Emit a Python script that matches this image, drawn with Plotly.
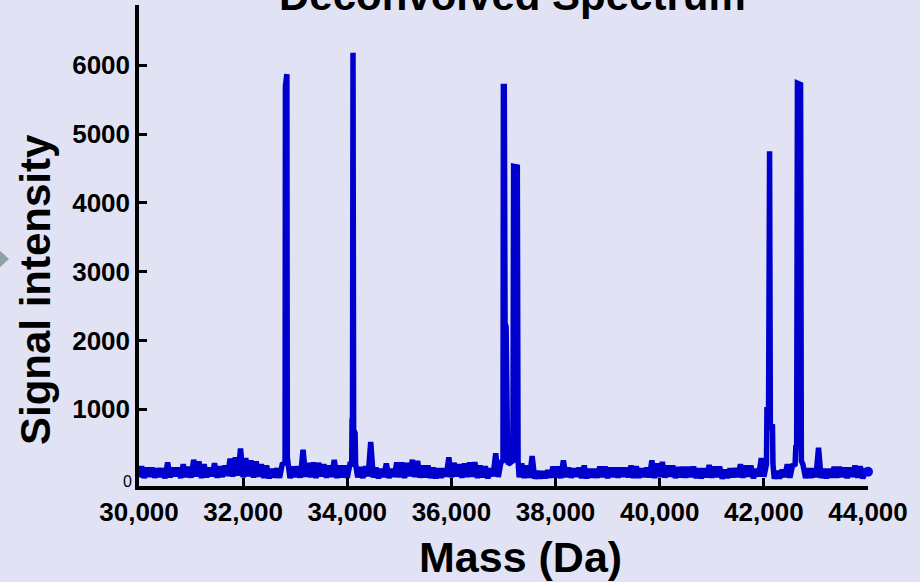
import numpy as np
import plotly.graph_objects as go

# Baseline of the deconvolved spectrum, sampled every 50 Da from 30,000 Da
mass_start = 30000
mass_step = 50
baseline_intensity = [
    10, 170, 0, 150, 20, 150, 5, 140, 15, 140, -5, 225, 10, 150, 25, 150, 0, 200, 15, 160,
    5, 265, 20, 240, 0, 200, 10, 150, 25, 215, 5, 170, 15, 180, 30, 280, 20, 300, 35, 430,
    10, 290, 25, 255, 5, 240, 20, 200, 0, 180, -5, 130, 10, 140, 5, 200, 15, 220, 0, 165,
    15, 170, 5, 410, 20, 220, 10, 225, 0, 220, 25, 200, 5, 180, 15, 265, 0, 180, 10, 180,
    5, 200, 20, 200, 10, 160, 0, 170, 25, 525, 5, 150, -5, 130, 15, 210, 0, 130, 20, 225,
    10, 225, 0, 220, 25, 265, 15, 250, 5, 180, 10, 180, 0, 150, -5, 140, 5, 140, 20, 300,
    10, 220, 25, 200, 5, 210, 15, 225, 20, 230, 0, 180, 10, 170, -5, 140, 25, 360, 15, 230,
    10, 220, 5, 200, 20, 200, 10, 210, 0, 180, 5, 320, -10, 100, -5, 95, 0, 110, 5, 165,
    10, 165, 0, 255, 15, 150, 5, 140, 20, 150, 0, 180, -5, 130, 10, 130, 5, 165, 15, 165,
    0, 150, 15, 150, 5, 150, 20, 150, 10, 180, 0, 170, 5, 140, 15, 150, 10, 255, 0, 210,
    15, 235, 5, 180, 20, 180, 0, 160, 10, 160, 5, 160, 15, 165, 0, 140, -5, 140, 10, 190,
    5, 165, 15, 165, -10, 120, 0, 140, 10, 140, 15, 200, 5, 180, 20, 180, -5, 130, 25, 290,
    20, 240, 10, 200, -10, 100, -5, 120, 15, 200, 5, 180, 20, 200, 10, 200, 0, 140, 5, 140,
    10, 440, 0, 130, -5, 130, 10, 160, 5, 160, 15, 150, 0, 150, 20, 180, 5, 170, -5, 100,
    90,
]

# Deconvolved protein peaks (mass in Da, signal intensity)
peak_mass = [32805, 32812, 32840, 32848,
             34085, 34092, 34100, 34110, 34122, 34150, 34160,
             36990, 36998, 37015, 37030, 37050, 37075, 37090,
             37180, 37195, 37265, 37280,
             42050, 42060, 42090, 42110, 42125, 42165, 42175,
             42600, 42615, 42630, 42645, 42705, 42720]
peak_intensity = [220, 5700, 5870, 300,
                  200, 870, 500, 6180, 700, 650, 200,
                  250, 5690, 5690, 2250, 2200, 600, 200,
                  250, 4530, 4520, 250,
                  200, 1030, 900, 4750, 700, 780, 200,
                  200, 480, 450, 5740, 5720, 250]

mass_ticks = [30000, 32000, 34000, 36000, 38000, 40000, 42000, 44000]
intensity_ticks = [1000, 2000, 3000, 4000, 5000, 6000]

# Merge baseline and peaks; baseline samples inside a peak's span are dropped
base_mass = mass_start + mass_step * np.arange(len(baseline_intensity))
base_int = np.array(baseline_intensity, dtype=float)
pm = np.array(peak_mass, dtype=float)
pi = np.array(peak_intensity, dtype=float)
breaks = np.where(np.diff(pm) > 200)[0]
starts = np.concatenate([[0], breaks + 1])
ends = np.concatenate([breaks, [len(pm) - 1]])
keep = np.ones(len(base_mass), dtype=bool)
for s, e in zip(starts, ends):
    keep &= ~((base_mass >= pm[s] - 10) & (base_mass <= pm[e] + 10))
mass = np.concatenate([base_mass[keep], pm])
intensity = np.concatenate([base_int[keep], pi])
order = np.argsort(mass, kind="stable")
mass, intensity = mass[order], intensity[order]

BG = "#E1E3F5"
BLUE = "#0000CD"
FONT = "Arial, Liberation Sans, sans-serif"

L, R, T, B = 139, 52, 5, 96
W, H = 920, 582
pw, ph = W - L - R, H - T - B


def px_x(p):
    return (p - L) / pw


def px_y(p):
    return (H - B - p) / ph


fig = go.Figure()
fig.add_trace(go.Scatter(
    x=mass, y=intensity, mode="lines",
    line=dict(color=BLUE, width=5.5, simplify=False),
    hoverinfo="skip", showlegend=False,
))
fig.add_trace(go.Scatter(
    x=[mass[-1]], y=[intensity[-1]], mode="markers",
    marker=dict(color="#0808F0", size=10),
    cliponaxis=False, hoverinfo="skip", showlegend=False,
))

fig.update_layout(
    width=W, height=H,
    margin=dict(l=L, r=R, t=T, b=B),
    paper_bgcolor=BG, plot_bgcolor=BG,
    font=dict(family=FONT, color="black"),
    showlegend=False,
    xaxis=dict(
        range=[30000, 44000],
        tickvals=mass_ticks,
        ticktext=[f"{v:,}" for v in mass_ticks],
        ticks="inside", ticklen=8, tickwidth=3, tickcolor="black",
        showline=True, linewidth=3.5, linecolor="black",
        showgrid=False, zeroline=False,
        tickfont=dict(size=26, weight="bold", family=FONT),
    ),
    yaxis=dict(
        range=[-116, 6875],
        tickvals=intensity_ticks,
        ticktext=[str(v) for v in intensity_ticks],
        ticks="inside", ticklen=8, tickwidth=3, tickcolor="black",
        showline=True, linewidth=3.5, linecolor="black",
        showgrid=False, zeroline=False,
        tickfont=dict(size=26, weight="bold", family=FONT),
    ),
    annotations=[
        dict(text="<b>Deconvolved Spectrum</b>", xref="paper", yref="paper",
             x=px_x(512), y=px_y(21), xanchor="center", yanchor="bottom",
             showarrow=False, font=dict(size=42, family=FONT)),
        dict(text="<b>Mass (Da)</b>", xref="paper", yref="paper",
             x=px_x(520), y=px_y(557), xanchor="center", yanchor="middle",
             showarrow=False, font=dict(size=43, family=FONT)),
        dict(text="<b>Signal intensity</b>", xref="paper", yref="paper",
             x=px_x(35), y=px_y(290), xanchor="center", yanchor="middle",
             textangle=-90, showarrow=False, font=dict(size=42, family=FONT)),
        dict(text="0", xref="paper", yref="y",
             x=px_x(134), y=0, xanchor="right", yanchor="middle", yshift=-3,
             showarrow=False, font=dict(size=16, family=FONT)),
    ],
    shapes=[
        dict(type="path", xref="paper", yref="paper",
             path=(f"M {px_x(-3)},{px_y(248)} L {px_x(9)},{px_y(259)} "
                   f"L {px_x(-3)},{px_y(270)} Z"),
             fillcolor="#8FA2A6", line=dict(width=0)),
    ],
)

fig.write_html("out.html")
